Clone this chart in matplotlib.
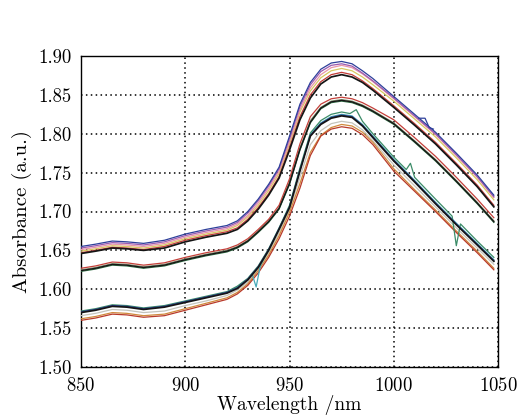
"""NIR absorbance spectra, three sample groups, MATLAB-style grid."""
import matplotlib

matplotlib.use("Agg")

import matplotlib.pyplot as plt
from matplotlib.ticker import FormatStrFormatter

plt.rcParams["font.family"] = "serif"
plt.rcParams["font.serif"] = ["cmr10", "DejaVu Serif"]
plt.rcParams["axes.formatter.use_mathtext"] = True

# wavelength nodes (nm) shared by most curves
W = [850, 857, 865, 872, 880, 890, 900, 910, 920, 925, 930, 935, 940, 945, 950,
     955, 960, 965, 970, 975, 980, 985, 990, 1000, 1010, 1020, 1030, 1040, 1048]

# top group
T_BLUE = [1.655, 1.658, 1.662, 1.661, 1.659, 1.663, 1.671, 1.677, 1.682, 1.688, 1.700, 1.716, 1.735, 1.757, 1.797,
          1.838, 1.866, 1.883, 1.891, 1.893, 1.890, 1.881, 1.871, 1.848, 1.825, 1.802, 1.775, 1.747, 1.721]
T_PURPLE = [1.653, 1.656, 1.660, 1.659, 1.657, 1.661, 1.669, 1.675, 1.680, 1.686, 1.698, 1.714, 1.733, 1.755, 1.794,
            1.835, 1.863, 1.880, 1.888, 1.890, 1.887, 1.878, 1.868, 1.846, 1.823, 1.800, 1.773, 1.745, 1.719]
T_PINK = [1.651, 1.654, 1.658, 1.657, 1.655, 1.659, 1.667, 1.673, 1.678, 1.684, 1.695, 1.711, 1.730, 1.752, 1.790,
          1.831, 1.859, 1.876, 1.885, 1.888, 1.885, 1.877, 1.867, 1.845, 1.822, 1.799, 1.772, 1.744, 1.718]
T_YELLOW = [1.649, 1.652, 1.656, 1.655, 1.653, 1.657, 1.665, 1.671, 1.676, 1.682, 1.693, 1.708, 1.727, 1.749, 1.787,
            1.828, 1.855, 1.872, 1.881, 1.884, 1.881, 1.873, 1.863, 1.842, 1.819, 1.796, 1.769, 1.741, 1.715]
T_RED = [1.647, 1.650, 1.654, 1.653, 1.651, 1.655, 1.663, 1.669, 1.674, 1.679, 1.690, 1.705, 1.723, 1.745, 1.782,
         1.822, 1.850, 1.867, 1.876, 1.879, 1.876, 1.868, 1.858, 1.836, 1.813, 1.789, 1.762, 1.734, 1.708]
T_BLACK = [1.646, 1.649, 1.653, 1.652, 1.650, 1.653, 1.661, 1.667, 1.672, 1.677, 1.688, 1.703, 1.721, 1.743, 1.779,
           1.818, 1.846, 1.864, 1.873, 1.876, 1.873, 1.866, 1.856, 1.834, 1.811, 1.787, 1.760, 1.732, 1.706]

# blue top curve has a small kink near 1016 nm
W_T_BLUE_KINK = [1012, 1015, 1017, 1019]
T_BLUE_KINK = [1.820, 1.820, 1.808, 1.806]

# middle group
M_RED = [1.627, 1.630, 1.635, 1.634, 1.631, 1.634, 1.641, 1.647, 1.652, 1.657, 1.665, 1.677, 1.690, 1.708, 1.742,
         1.787, 1.822, 1.838, 1.845, 1.847, 1.845, 1.840, 1.833, 1.818, 1.795, 1.771, 1.744, 1.716, 1.692]
M_OLIVE = [1.625, 1.628, 1.633, 1.632, 1.629, 1.632, 1.639, 1.645, 1.650, 1.655, 1.663, 1.675, 1.688, 1.705, 1.738,
           1.782, 1.817, 1.834, 1.842, 1.844, 1.842, 1.837, 1.830, 1.814, 1.791, 1.767, 1.740, 1.712, 1.688]
M_GREEN = [1.623, 1.626, 1.631, 1.630, 1.627, 1.630, 1.637, 1.643, 1.648, 1.653, 1.661, 1.673, 1.686, 1.703, 1.735,
           1.779, 1.814, 1.832, 1.840, 1.842, 1.840, 1.835, 1.828, 1.812, 1.789, 1.765, 1.738, 1.710, 1.686]
M_BLACK = [1.624, 1.627, 1.632, 1.631, 1.628, 1.631, 1.638, 1.644, 1.649, 1.654, 1.662, 1.674, 1.687, 1.704, 1.736,
           1.780, 1.815, 1.833, 1.841, 1.843, 1.841, 1.836, 1.829, 1.813, 1.790, 1.766, 1.739, 1.711, 1.687]

# lower group
L_BLUE = [1.571, 1.574, 1.579, 1.578, 1.575, 1.578, 1.584, 1.590, 1.596, 1.602, 1.613, 1.629, 1.651, 1.678, 1.706,
          1.753, 1.798, 1.813, 1.821, 1.824, 1.822, 1.811, 1.796, 1.766, 1.739, 1.711, 1.684, 1.658, 1.637]
L_GRAY = [1.566, 1.569, 1.574, 1.573, 1.570, 1.572, 1.579, 1.585, 1.592, 1.599, 1.609, 1.626, 1.647, 1.673, 1.702,
          1.744, 1.786, 1.804, 1.813, 1.816, 1.814, 1.805, 1.791, 1.760, 1.733, 1.706, 1.679, 1.653, 1.632]
L_ORANGE = [1.562, 1.565, 1.570, 1.569, 1.566, 1.568, 1.575, 1.582, 1.589, 1.596, 1.607, 1.624, 1.644, 1.669, 1.699,
            1.736, 1.776, 1.798, 1.808, 1.812, 1.810, 1.802, 1.789, 1.755, 1.728, 1.702, 1.675, 1.649, 1.627]
L_RED = [1.560, 1.563, 1.568, 1.567, 1.564, 1.566, 1.573, 1.580, 1.587, 1.594, 1.605, 1.621, 1.641, 1.665, 1.694,
         1.730, 1.772, 1.797, 1.806, 1.809, 1.807, 1.799, 1.786, 1.752, 1.726, 1.700, 1.673, 1.647, 1.625]
L_BLACK = [1.570, 1.573, 1.578, 1.577, 1.574, 1.577, 1.583, 1.589, 1.595, 1.601, 1.612, 1.628, 1.650, 1.677, 1.705,
           1.752, 1.797, 1.812, 1.820, 1.823, 1.821, 1.810, 1.795, 1.765, 1.738, 1.710, 1.683, 1.657, 1.636]

# curves with glitches get their own wavelength grids
W_L_GREEN = [850, 857, 865, 872, 880, 890, 900, 910, 920, 925, 930, 935, 940, 945, 950, 955, 960, 965, 970, 975,
             979, 982, 985, 990, 1000, 1006, 1008, 1010, 1020, 1028, 1030, 1032, 1040, 1048]
L_GREEN = [1.572, 1.575, 1.580, 1.579, 1.576, 1.579, 1.585, 1.591, 1.597, 1.604, 1.614, 1.630, 1.652, 1.679, 1.708,
           1.756, 1.801, 1.817, 1.825, 1.828, 1.826, 1.831, 1.816, 1.800, 1.770, 1.754, 1.762, 1.744, 1.716, 1.694,
           1.656, 1.684, 1.662, 1.641]
W_L_CYAN = [850, 857, 865, 872, 880, 890, 900, 910, 920, 925, 930, 932, 934, 936, 940, 945, 950, 955, 960, 965,
            970, 975, 980, 985, 990, 1000, 1010, 1020, 1030, 1040, 1048]
L_CYAN = [1.571, 1.574, 1.579, 1.578, 1.575, 1.578, 1.584, 1.590, 1.596, 1.603, 1.613, 1.620, 1.603, 1.630, 1.651,
          1.678, 1.706, 1.754, 1.799, 1.814, 1.822, 1.825, 1.823, 1.812, 1.797, 1.767, 1.740, 1.712, 1.685, 1.659,
          1.638]

X_TICKS = [850, 900, 950, 1000, 1050]
Y_TICKS = [1.50, 1.55, 1.60, 1.65, 1.70, 1.75, 1.80, 1.85, 1.90]

fig = plt.figure(figsize=(5.25, 4.18), dpi=100)
ax = fig.add_axes([0.1543, 0.122, 0.7943, 0.744])

thin = 0.9
thick = 1.25
curves = [
    (W, T_YELLOW, "#d8c860", thin),
    (W, T_PINK, "#e896a8", thin),
    (W, T_PURPLE, "#9a5ab0", thin),
    (W, T_RED, "#c23a36", thin),
    (W, T_BLUE, "#2d3f9a", thin),
    (W_T_BLUE_KINK, T_BLUE_KINK, "#2d3f9a", thin),
    (W, T_BLACK, "#151515", thick),
    (W, M_OLIVE, "#8c9a78", thin),
    (W, M_RED, "#c4403a", thin),
    (W, M_GREEN, "#2f6e44", thin),
    (W, M_BLACK, "#151515", 1.0),
    (W, L_GRAY, "#c4c4bc", thin),
    (W, L_ORANGE, "#d08a3c", thin),
    (W, L_RED, "#b83a2a", thin),
    (W_L_CYAN, L_CYAN, "#48aab8", thin),
    (W_L_GREEN, L_GREEN, "#3b8c68", thin),
    (W, L_BLUE, "#2b3a92", thin),
    (W, L_BLACK, "#151515", thick),
]
for xs, ys, color, lw in curves:
    ax.plot(xs, ys, color=color, linewidth=lw, zorder=3)

ax.set_xlim(850, 1050)
ax.set_ylim(1.50, 1.90)
ax.set_xticks(X_TICKS)
ax.set_yticks(Y_TICKS)
ax.yaxis.set_major_formatter(FormatStrFormatter("%.2f"))
ax.tick_params(direction="in", length=0, labelsize=13.5, pad=7)
ax.grid(True, color="black", linestyle=(0, (1, 2.2)), linewidth=1.1)
ax.set_axisbelow(True)
for s in ax.spines.values():
    s.set_linewidth(1.0)

ax.set_xlabel("Wavelength /nm", fontsize=14, labelpad=0)
ax.set_ylabel("Absorbance (a.u.)", fontsize=15, labelpad=4)

fig.savefig("out.png", dpi=100)
